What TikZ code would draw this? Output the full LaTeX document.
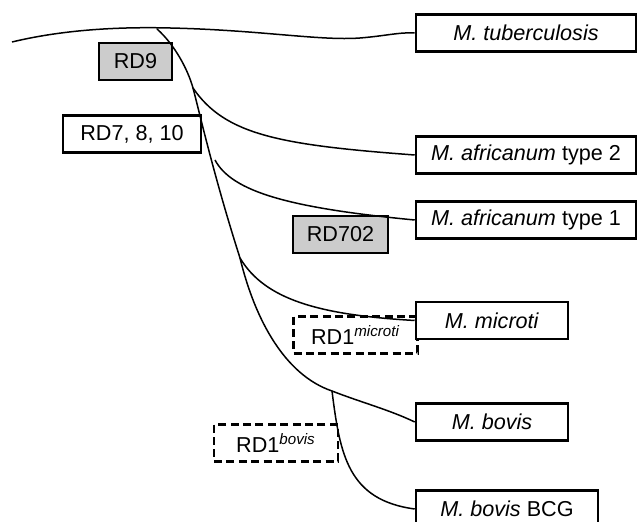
\documentclass[tikz,border=0pt]{standalone}
\usepackage{fontspec}
\setmainfont{Liberation Sans}
\usepackage{xcolor}
\usetikzlibrary{positioning}
\definecolor{rdgray}{RGB}{204,204,204}
\newcommand{\spname}[1]{\emph{#1}}

\begin{document}
\begin{tikzpicture}[x=0.5pt,y=-0.5pt,
        every node/.style={font=\fontsize{10.8}{13}\selectfont,inner sep=0pt},
        species/.style={rectangle,draw=black,fill=white,line width=1.3pt,minimum height=18.5pt},
        rdbox/.style={rectangle,draw=black,line width=1.3pt,minimum height=18.5pt},
        rdgone/.style={rdbox,fill=rdgray},
        rdopt/.style={rdbox,dash pattern=on 4pt off 2.2pt},
        branch/.style={line width=0.75pt}]
        \useasboundingbox (0,0) rectangle (637,522);
        % deletion labels (behind the species boxes)
        \node[rdgone,minimum width=36.5pt] (rd9) at (135.5,61.5) {RD9};
        \node[rdbox,minimum width=69pt] (rd7) at (132,134) {RD7, 8, 10};
        \node[rdgone,minimum width=47.5pt] (rd702) at (340.5,234.5) {RD702};
        \node[rdopt,minimum width=62pt] (rdmic) at (355.5,335) {RD1\textsuperscript{\itshape microti}};
        \node[rdopt,minimum width=62pt] (rdbov) at (276,443) {RD1\textsuperscript{\itshape bovis}};
        % branch points
        \coordinate (root) at (12,42);
        \coordinate (n1) at (157,29);
        \coordinate (n2) at (193,88);
        \coordinate (n3) at (215,160);
        \coordinate (n4) at (240,258);
        \coordinate (n5) at (332,391);
        % species
        \node[species,minimum width=110pt] (tb) at (526,33) {\spname{M. tuberculosis}};
        \node[species,minimum width=110pt] (afr2) at (526,155) {\spname{M. africanum} type 2};
        \node[species,minimum width=110pt] (afr1) at (526,220) {\spname{M. africanum} type 1};
        \node[species,minimum width=76pt] (mic) at (492,320.5) {\spname{M. microti}};
        \node[species,minimum width=76pt] (bov) at (492,422) {\spname{M. bovis}};
        \node[species,minimum width=91pt] (bcg) at (507,509) {\spname{M. bovis} BCG};
        % tree
        \draw[branch] (root) .. controls (70,28) and (130,27) .. (170,28)
          .. controls (260,30) and (320,41) .. (360,38)
          .. controls (385,36) and (400,32) .. (tb.west);
        \draw[branch] (n1) .. controls (175,45) and (188,70) .. (n2)
          .. controls (200,115) and (215,180) .. (n4)
          .. controls (255,320) and (285,375) .. (n5)
          .. controls (360,402) and (390,410) .. (bov.west);
        \draw[branch] (n2) .. controls (225,135) and (280,145) .. (afr2.west);
        \draw[branch] (n3) .. controls (232,192) and (290,208) .. (afr1.west);
        \draw[branch] (n4) .. controls (265,300) and (320,315) .. (mic.west);
        \draw[branch] (n5) .. controls (340,455) and (348,500) .. (bcg.west);
      \end{tikzpicture}
\end{document}
